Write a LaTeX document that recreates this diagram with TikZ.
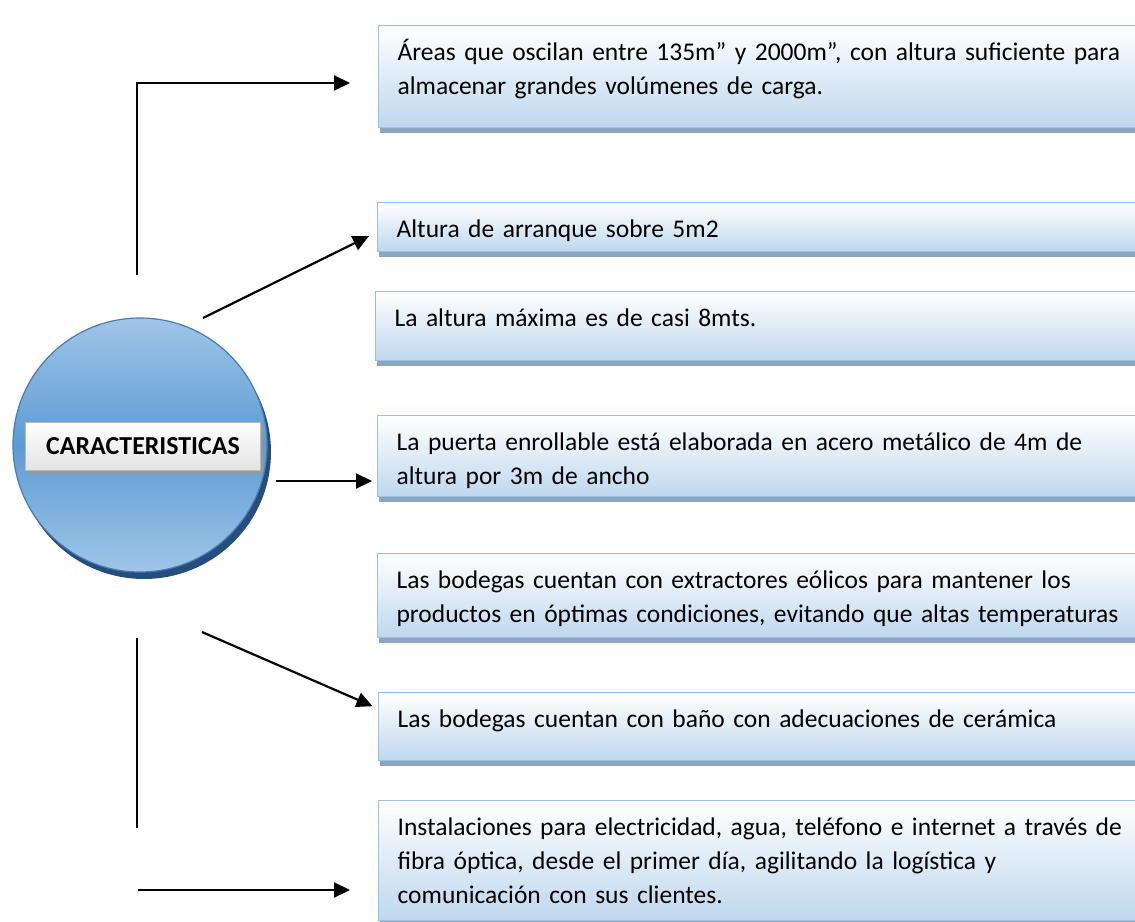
\documentclass[tikz,border=0pt]{standalone}
\usepackage{fontspec}
\setmainfont{Carlito}
\usetikzlibrary{positioning,calc,shadows,arrows.meta}
\definecolor{BoxBlue}{RGB}{190,215,238}
\definecolor{BoxEdge}{RGB}{155,194,230}
\definecolor{BoxShade}{RGB}{140,165,192}
\definecolor{HubLight}{RGB}{160,197,231}
\definecolor{HubMid}{RGB}{91,155,213}
\definecolor{HubEdge}{RGB}{72,124,184}
\definecolor{HubShade}{RGB}{38,78,124}
\tikzset{
    infobox/.style={rectangle, draw=BoxEdge, line width=1.2pt, top color=white, bottom color=BoxBlue, anchor=north west, text width=744bp, inner xsep=19bp, inner ysep=0pt, text height=35bp, align=left, font=\fontsize{25.6}{34}\selectfont, drop shadow={shadow xshift=1.5pt, shadow yshift=-5pt, fill=BoxShade, opacity=1}},
    hubnode/.style={circle, draw=HubEdge, line width=1.2pt, top color=HubLight, bottom color=HubLight, middle color=HubMid, minimum size=254bp, inner sep=0pt, drop shadow={shadow xshift=4pt, shadow yshift=-7pt, fill=HubShade, opacity=1}},
    tagnode/.style={rectangle, draw=gray!55, top color=white, bottom color=gray!22, minimum width=235bp, minimum height=48bp, font=\fontsize{26}{30}\selectfont\bfseries, drop shadow={shadow xshift=3pt, shadow yshift=-4pt, fill=gray!80, opacity=1}},
    conn/.style={line width=2.2bp, -{Triangle[length=16bp,width=15bp]}}
}
\begin{document}
\begin{tikzpicture}[x=1bp, y=1bp]
\useasboundingbox (0,0) rectangle (1135,-922);
% circle with title
\node[hubnode] (hub) at (140,-445) {};
\node[tagnode] (tag) at (143,-446) {CARACTERISTICAS};

% boxes on the right
\node[infobox, text depth=67bp] (b1) at (378,-25) {Áreas que oscilan entre 135m” y 2000m”, con altura suficiente para\\almacenar grandes volúmenes de carga.};
\node[infobox, text depth=14bp] (b2) at (377,-202) {Altura de arranque sobre 5m2};
\node[infobox, text depth=34bp] (b3) at (375,-291) {La altura máxima es de casi 8mts.};
\node[infobox, text depth=46bp] (b4) at (377,-415) {La puerta enrollable está elaborada en acero metálico de 4m de\\altura por 3m de ancho};
\node[infobox, text depth=49bp] (b5) at (377,-553) {Las bodegas cuentan con extractores eólicos para mantener los\\productos en óptimas condiciones, evitando que altas temperaturas};
\node[infobox, text depth=33bp] (b6) at (378,-692) {Las bodegas cuentan con baño con adecuaciones de cerámica};
\node[infobox, text depth=85bp] (b7) at (378,-800) {Instalaciones para electricidad, agua, teléfono e internet a través de\\fibra óptica, desde el primer día, agilitando la logística y\\comunicación con sus clientes.};

% connectors
\coordinate (t0) at (137,-275);
\coordinate (t1) at (137,-83);
\coordinate (s2) at (203,-318);
\coordinate (s4) at (276,-481);
\coordinate (s6) at (202,-632);
\coordinate (v0) at (137,-638);
\coordinate (v1) at (137,-828);
\coordinate (s7) at (138,-890);

\draw[conn, shorten >=28bp] (t0) -- (t1) -- (t1 -| b1.west);
\draw[conn, shorten >=9bp] (s2) -- ([yshift=-5bp]b2.west);
\draw[conn, shorten >=5bp] (s4) -- (s4 -| b4.west);
\draw[conn, shorten >=6bp] (s6) -- ([yshift=18bp]b6.west);
\draw[line width=2.2bp] (v0) -- (v1);
\draw[conn, shorten >=28bp] (s7) -- (s7 -| b7.west);
\end{tikzpicture}
\end{document}
